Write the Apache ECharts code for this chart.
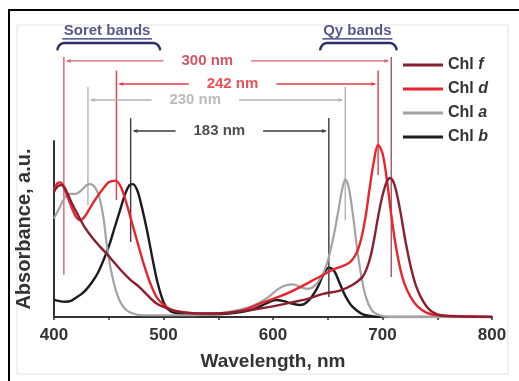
<!DOCTYPE html>
<html><head><meta charset="utf-8">
<script src="https://cdn.jsdelivr.net/npm/echarts@6/dist/echarts.min.js"></script>
<style>html,body{margin:0;padding:0;background:#fff}#c{width:519px;height:381px}</style>
</head><body><div id="c"></div>
<script>
// ---- data ----
const seriesNames = ['Chl f', 'Chl d', 'Chl a', 'Chl b'];
const chlF_nm  = [400,403,407,411,416,421,428,435,442,448,455,462,470,478,486,493,500,510,520,540,560,580,600,615,630,645,661,672,682,688,692,696,700,704,707,711,716,721,726,731,737,743,750,760,800];
const chlF_abs = [0.71,0.74,0.75,0.72,0.65,0.59,0.51,0.45,0.40,0.36,0.31,0.26,0.21,0.17,0.12,0.08,0.057,0.035,0.025,0.02,0.025,0.04,0.06,0.08,0.10,0.13,0.15,0.18,0.23,0.32,0.43,0.57,0.69,0.77,0.79,0.75,0.61,0.43,0.28,0.17,0.09,0.04,0.015,0.005,0];
const chlD_nm  = [400,403,406,410,415,420,424,428,433,439,445,450,456,461,466,471,476,482,488,494,500,506,515,530,550,570,590,615,640,655,670,678,684,688,692,696,700,704,708,712,716,720,726,732,740,750,770,800];
const chlD_abs = [0.72,0.76,0.765,0.72,0.64,0.57,0.55,0.57,0.62,0.68,0.73,0.765,0.775,0.74,0.65,0.54,0.43,0.30,0.19,0.11,0.07,0.045,0.03,0.02,0.02,0.035,0.08,0.14,0.22,0.27,0.31,0.39,0.55,0.72,0.88,0.977,0.93,0.78,0.58,0.41,0.28,0.19,0.11,0.06,0.025,0.01,0.005,0];
const chlA_nm  = [400,405,410,415,420,425,430,433,437,441,445,448,451,454,457,461,466,472,480,500,520,540,560,580,595,605,612,618,625,632,640,648,654,659,663,666,669,673,677,681,685,690,695,705,800];
const chlA_abs = [0.56,0.62,0.68,0.70,0.70,0.72,0.75,0.755,0.74,0.69,0.57,0.42,0.30,0.21,0.14,0.08,0.04,0.02,0.01,0.01,0.01,0.015,0.03,0.06,0.11,0.16,0.18,0.185,0.17,0.16,0.19,0.28,0.42,0.58,0.72,0.78,0.74,0.58,0.38,0.22,0.11,0.04,0.015,0,0];
const chlB_nm  = [400,405,410,415,420,425,430,435,440,445,450,455,460,465,469,472,476,480,485,490,494,498,502,507,515,530,560,580,595,602,610,618,625,632,640,646,651,656,661,666,671,676,682,690,700,800];
const chlB_abs = [0.097,0.09,0.087,0.09,0.11,0.13,0.16,0.20,0.25,0.32,0.40,0.50,0.60,0.70,0.75,0.755,0.72,0.63,0.49,0.33,0.21,0.12,0.06,0.03,0.02,0.015,0.02,0.04,0.08,0.097,0.09,0.075,0.068,0.09,0.16,0.24,0.28,0.26,0.19,0.12,0.07,0.04,0.015,0.005,0,0];
// band separations (peak positions, nm) and labels
const spanLabels = ['300 nm', '242 nm', '230 nm', '183 nm'];
const spanLeft   = [409, 457, 431, 470];
const spanRight  = [708, 696, 666, 651];
const xTicks = [400, 500, 600, 700, 800];
const bandTitles = ['Soret bands', 'Qy bands'];

// ---- layout / style (not data) ----
const FONT = 'Liberation Sans, Arial, sans-serif';
const curveColors = ['#8a1f30', '#e8252e', '#a3a3a3', '#1c1c1c'];
const spanColors  = ['#d9606c', '#e43a44', '#b3b3b3', '#3a3a3a'];
const spanRightColors = ['#a45566', '#e43a44', '#b3b3b3', '#3a3a3a'];
const labelColors = ['#c8283a', '#e8252e', '#aaaaaa', '#222222'];
const spanLevel   = [1.455, 1.324, 1.233, 1.057];
const vTop        = [1.477, 1.40, 1.307, 1.13];
const vBotLeft    = [0.24, 0.665, 0.636, 0.426];
const vBotRight   = [0.227, 0.807, 0.55, 0.114];
const labelCenter = [540, 563, 529, 551];
const gapHalf = 40;

const nmArr = [chlF_nm, chlD_nm, chlA_nm, chlB_nm];
const absArr = [chlF_abs, chlD_abs, chlA_abs, chlB_abs];

const series = [];
seriesNames.forEach((n, i) => {
  series.push({
    name: n, type: 'line', smooth: 0.35, showSymbol: false, symbol: 'none',
    lineStyle: { color: curveColors[i], width: i === 2 ? 2.2 : 2.4 },
    itemStyle: { color: curveColors[i] },
    data: nmArr[i].map((x, k) => [x, absArr[i][k]]),
    z: 5 - i
  });
});

function seg(pts, color, width) {
  series.push({ type: 'line', silent: true, clip: false, symbol: 'none', showSymbol: false,
    lineStyle: { color: color, width: width || 1.4 }, data: pts, z: 2, animation: false });
}
function arrow(x, y, dir, color) {
  series.push({ type: 'scatter', silent: true, clip: false, symbol: 'triangle',
    symbolSize: [4, 5], symbolRotate: dir > 0 ? -90 : 90,
    itemStyle: { color: color }, data: [[x, y]], z: 3, animation: false });
}
spanLabels.forEach((lab, i) => {
  const c = spanColors[i];
  seg([[spanLeft[i], vTop[i]], [spanLeft[i], vBotLeft[i]]], c);
  seg([[spanRight[i], vTop[i]], [spanRight[i], vBotRight[i]]], spanRightColors[i]);
  const y = spanLevel[i];
  const l0 = spanLeft[i] + 3, r0 = spanRight[i] - 3;
  seg([[l0, y], [labelCenter[i] - gapHalf, y]], c);
  seg([[labelCenter[i] + gapHalf, y], [r0, y]], c);
  arrow(l0 + 1, y, -1, c);
  arrow(r0 - 1, y, 1, c);
  series.push({ type: 'scatter', silent: true, clip: false, symbolSize: 0,
    data: [[labelCenter[i], y, lab]],
    label: { show: true, position: 'inside', formatter: p => p.value[2],
      color: labelColors[i], fontSize: 15, fontWeight: 'bold', fontFamily: FONT },
    z: 4, animation: false });
});
// band brackets
const braceColor = '#2d2d6e';
const braces = [[403, 497], [643, 713]];
const braceCenters = [448.5, 677];
bandTitles.forEach((t, i) => {
  const a = braces[i][0], b = braces[i][1];
  series.push({ type: 'line', silent: true, clip: false, symbol: 'none', smooth: 0.5,
    lineStyle: { color: braceColor, width: 2.4 },
    data: [[a, 1.515], [a + 2, 1.545], [a + 6, 1.557], [b - 6, 1.557], [b - 2, 1.545], [b, 1.515]], z: 3, animation: false });
  series.push({ type: 'scatter', silent: true, clip: false, symbolSize: 0,
    data: [[braceCenters[i], 1.627, t]],
    label: { show: true, position: 'inside', formatter: p => p.value[2],
      color: braceColor, fontSize: 15, fontWeight: 'bold', fontFamily: FONT }, animation: false });
  const half = i === 0 ? 41 : 32;
  seg([[braceCenters[i] - half, 1.58], [braceCenters[i] + half, 1.58]], braceColor, 1.1);
});

const chart = echarts.init(document.getElementById('c'), null, { renderer: 'canvas' });
chart.setOption({
  animation: false,
  backgroundColor: '#fff',
  grid: { left: 54, right: 27, top: 141, bottom: 64 },
  legend: {
    data: seriesNames.map(n => ({ name: n })),
    orient: 'vertical', left: 398, top: 52, itemWidth: 40, itemHeight: 3, itemGap: 8,
    icon: 'rect', selectedMode: false,
    formatter: n => n.split(' ')[0] + ' {i|' + n.split(' ')[1] + '}',
    textStyle: { color: '#333', fontSize: 16, fontWeight: 'bold', lineHeight: 16, fontFamily: FONT,
      rich: { i: { fontStyle: 'italic', fontWeight: 'bold', fontSize: 16, color: '#333', fontFamily: FONT } } }
  },
  xAxis: {
    type: 'value', min: 400, max: 800, interval: 50,
    name: 'Wavelength, nm', nameLocation: 'middle', nameGap: 35,
    nameTextStyle: { color: '#333', fontSize: 19, fontWeight: 'bold', fontFamily: FONT },
    axisLine: { show: true, lineStyle: { color: '#333', width: 2 } },
    axisTick: { show: true, length: 3, lineStyle: { color: '#333', width: 1.5 } },
    splitLine: { show: false },
    axisLabel: { color: '#333', fontSize: 17, fontWeight: 'bold', margin: 10, fontFamily: FONT,
      formatter: v => xTicks.includes(v) ? String(v) : '' }
  },
  yAxis: {
    type: 'value', min: 0, max: 1,
    name: 'Absorbance, a.u.', nameLocation: 'middle', nameGap: 20,
    nameTextStyle: { color: '#333', fontSize: 20, fontWeight: 'bold', fontFamily: FONT },
    axisLine: { show: true, lineStyle: { color: '#333', width: 2 } },
    axisTick: { show: false }, axisLabel: { show: false }, splitLine: { show: false }
  },
  graphic: [
    { type: 'rect', shape: { x: 9, y: 10, width: 530, height: 400 }, style: { fill: 'none', stroke: '#000', lineWidth: 2 }, silent: true },
    { type: 'rect', shape: { x: 17, y: 25, width: 491, height: 349 }, style: { fill: 'none', stroke: '#e2e2e2', lineWidth: 1 }, silent: true }
  ],
  series: series
});
</script></body></html>
